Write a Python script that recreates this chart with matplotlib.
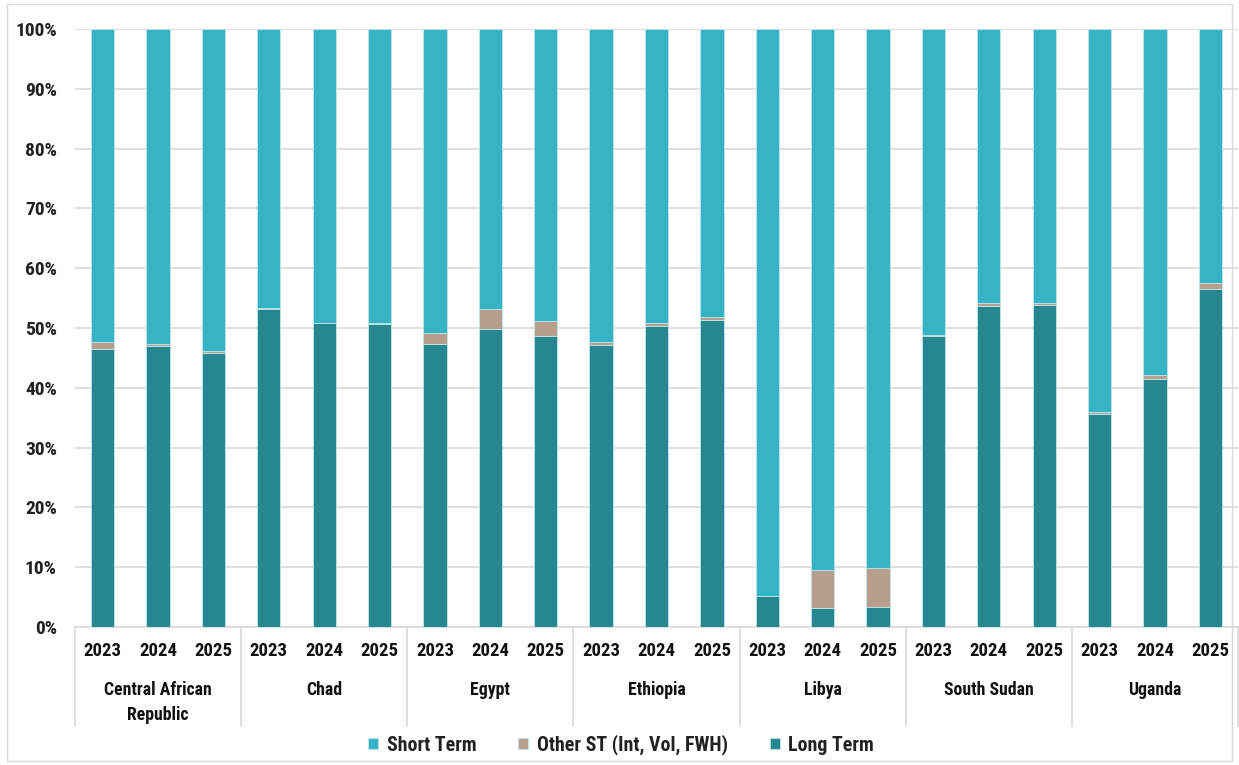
import matplotlib
matplotlib.use("Agg")
import matplotlib.pyplot as plt
from matplotlib.patches import Rectangle
from matplotlib.ticker import PercentFormatter
import numpy as np

countries = ["Central African\nRepublic", "Chad", "Egypt", "Ethiopia", "Libya", "South Sudan", "Uganda"]
years = ["2023", "2024", "2025"]

# shares in percent, per country then year
long_term = [46.5, 47.0, 45.9,
             53.1, 50.8, 50.7,
             47.4, 49.9, 48.7,
             47.2, 50.4, 51.3,
             5.2, 3.2, 3.3,
             48.6, 53.7, 53.8,
             35.7, 41.4, 56.5]
other_st = [1.2, 0.4, 0.3,
            0.3, 0.1, 0.1,
            1.7, 3.3, 2.4,
            0.5, 0.4, 0.5,
            0.0, 6.4, 6.6,
            0.3, 0.4, 0.4,
            0.2, 0.8, 1.0]
short_term = [100 - a - b for a, b in zip(long_term, other_st)]

c_short = "#36B4C5"
c_other = "#B89E8C"
c_long = "#268791"

plt.rcParams["font.family"] = ["Roboto Condensed", "DejaVu Sans"]
plt.rcParams["font.weight"] = "bold"

fig = plt.figure(figsize=(12.39, 7.65), dpi=100)
ax = fig.add_axes([75 / 1239, 1 - 627 / 765, (1238 - 75) / 1239, (627 - 29) / 765])

n = len(long_term)
x = np.arange(n)
w = 0.42
lt = np.array(long_term)
ot = np.array(other_st)
st = np.array(short_term)
ek = dict(width=w, edgecolor="#BFE6EC", linewidth=0.6, zorder=3)
ax.bar(x, lt, color=c_long, label="Long Term", **ek)
ax.bar(x, ot, bottom=lt, color=c_other, label="Other ST (Int, Vol, FWH)", **ek)
ax.bar(x, st, bottom=lt + ot, color=c_short, label="Short Term", **ek)

ax.set_xlim(-0.5, n - 0.5)
ax.set_ylim(0, 100)
ax.set_yticks(np.arange(0, 101, 10))
ax.yaxis.set_major_formatter(PercentFormatter(decimals=0))
ax.grid(axis="y", color="#D9D9D9", linewidth=1.2, zorder=0)
ax.set_axisbelow(True)
for s in ["top", "right", "left"]:
    ax.spines[s].set_visible(False)
ax.spines["bottom"].set_color("#D9D9D9")
ax.spines["bottom"].set_linewidth(1.2)
ax.tick_params(axis="y", length=0, pad=13, labelsize=14, labelcolor="#222222")
ax.tick_params(axis="x", length=0, pad=11, labelsize=13.5, labelcolor="#111111")
ax.set_xticks(x)
ax.set_xticklabels(years * len(countries))

# category group labels and separators under the axis
trans = ax.get_xaxis_transform()
for i, name in enumerate(countries):
    ax.text(3 * i + 1, -0.09, name, transform=trans, ha="center", va="top",
            fontsize=12.8, color="#111111", linespacing=1.5)
for k in range(len(countries) + 1):
    ax.plot([3 * k - 0.5, 3 * k - 0.5], [0, -0.165], transform=trans,
            color="#D9D9D9", linewidth=1.2, clip_on=False)

handles, labels = ax.get_legend_handles_labels()
leg = fig.legend(handles[::-1], labels[::-1], loc="center", bbox_to_anchor=(621 / 1239, 1 - 745 / 765),
                 ncol=3, frameon=False, fontsize=14.3, handlelength=0.5, handleheight=0.5,
                 handletextpad=0.45, columnspacing=2.1)
for t in leg.get_texts():
    t.set_color("#222222")

fig.patches.append(Rectangle((0.006, 0.005), 0.988, 0.99, transform=fig.transFigure,
                             fill=False, edgecolor="#D9D9D9", linewidth=1.0))

fig.savefig("out.png", dpi=100)
